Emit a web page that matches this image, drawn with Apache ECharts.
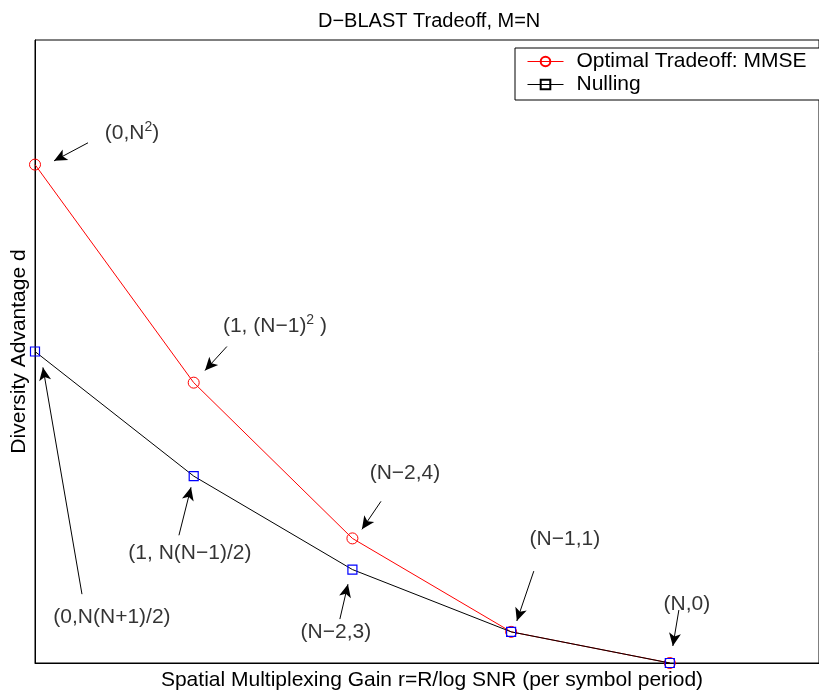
<!DOCTYPE html>
<html>
<head>
<meta charset="utf-8">
<script src="https://cdn.jsdelivr.net/npm/echarts@6/dist/echarts.min.js"></script>
<style>html,body{margin:0;padding:0;background:#fff;}#c{width:819px;height:696px;}</style>
</head>
<body>
<div id="c"></div>
<script>
// x positions: 0, 1, N-2, N-1, N  (with N = 4)
const xValues = [0, 1, 2, 3, 4];
const mmseValues = [16, 9, 4, 1, 0];
const nullingValues = [10, 6, 3, 1, 0];

const annoText = ['(0,N{sup|2})', '(1, (N\u22121){sup|2} )', '(N\u22122,4)', '(N\u22121,1)', '(N,0)', '(1, N(N\u22121)/2)', '(0,N(N+1)/2)', '(N\u22122,3)'];
const annoX = [0.611, 1.512, 2.331, 3.339, 4.107, 0.976, 0.485, 1.896];
const annoY = [17.02, 10.80, 6.09, 3.97, 1.89, 3.53, 1.47, 0.99];
const arrowFrom = [[0.334,16.70],[1.209,10.16],[2.180,5.19],[3.143,2.95],[4.057,1.70],[0.907,4.10],[0.296,2.21],[1.921,1.41]];
const arrowTo = [[0.120,16.12],[1.071,9.39],[2.060,4.29],[3.036,1.35],[4.019,0.545],[0.983,5.64],[0.050,9.49],[1.972,2.53]];

const FONT = '"Liberation Sans", Arial, Helvetica, sans-serif';
const chart = echarts.init(document.getElementById('c'), null, {renderer: 'canvas'});

const option = {
  backgroundColor: '#fff',
  animation: false,
  title: {
    text: 'D\u2212BLAST Tradeoff, M=N',
    left: 313, top: 6,
    textStyle: {fontFamily: FONT, fontSize: 20, fontWeight: 'normal', color: '#000'}
  },
  legend: {
    left: 515, top: 48,
    orient: 'vertical',
    backgroundColor: '#fff',
    borderColor: '#000', borderWidth: 1, borderRadius: 0,
    padding: [3, 30, 5, 12],
    itemWidth: 36, itemHeight: 12, itemGap: 2,
    textStyle: {fontFamily: FONT, fontSize: 21, color: '#000', lineHeight: 21, padding: [0, 0, 0, 8]},
    data: [
      {name: 'Optimal Tradeoff: MMSE', lineStyle: {width: 1}},
      {name: 'Nulling', itemStyle: {borderColor: '#000', color: 'transparent'}, lineStyle: {color: '#000', width: 1}}
    ]
  },
  grid: {left: 35, top: 40, right: 0, bottom: 32, show: true, borderColor: '#000', borderWidth: 1, containLabel: false},
  xAxis: {
    type: 'value', min: 0, max: 4.94,
    name: 'Spatial Multiplexing Gain r=R/log SNR (per symbol period)',
    nameLocation: 'middle', nameGap: 7,
    nameTextStyle: {fontFamily: FONT, fontSize: 21, color: '#000', padding: [0, 0, 0, 10]},
    axisLine: {show: true, lineStyle: {color: '#000', width: 1}},
    axisTick: {show: false}, axisLabel: {show: false}, splitLine: {show: false}
  },
  yAxis: {
    type: 'value', min: 0, max: 20,
    name: 'Diversity Advantage d',
    nameLocation: 'middle', nameGap: 5,
    nameTextStyle: {fontFamily: FONT, fontSize: 21, color: '#000'},
    axisLine: {show: true, lineStyle: {color: '#000', width: 1}},
    axisTick: {show: false}, axisLabel: {show: false}, splitLine: {show: false}
  },
  series: [
    {
      name: 'Optimal Tradeoff: MMSE', type: 'line',
      data: xValues.map((x, i) => [x, mmseValues[i]]),
      symbol: 'circle', symbolSize: 11,
      lineStyle: {color: '#ff0000', width: 1},
      itemStyle: {color: 'transparent', borderColor: '#ff0000', borderWidth: 1},
      z: 2
    },
    {
      name: 'Nulling', type: 'line',
      data: xValues.map((x, i) => [x, nullingValues[i]]),
      symbol: 'rect', symbolSize: 9,
      lineStyle: {color: '#000', width: 1},
      itemStyle: {color: 'transparent', borderColor: '#0000ff', borderWidth: 1.2},
      z: 3
    },
    {
      name: 'annotations', type: 'scatter',
      symbolSize: 0, silent: true,
      data: annoText.map((t, i) => ({value: [annoX[i], annoY[i]], label: {formatter: t}})),
      label: {
        show: true, position: 'inside', color: '#000',
        fontFamily: FONT, fontSize: 21,
        rich: {sup: {fontFamily: FONT, fontSize: 14, padding: [0, 0, 12, 0], color: '#000'}}
      },
      markLine: {
        silent: true, animation: false,
        symbol: ['none', 'arrow'], symbolSize: [9, 13],
        lineStyle: {color: '#000', width: 1, type: 'solid'},
        label: {show: false},
        data: arrowFrom.map((f, i) => [{coord: f}, {coord: arrowTo[i]}])
      },
      z: 4
    }
  ]
};
chart.setOption(option);
</script>
</body>
</html>
